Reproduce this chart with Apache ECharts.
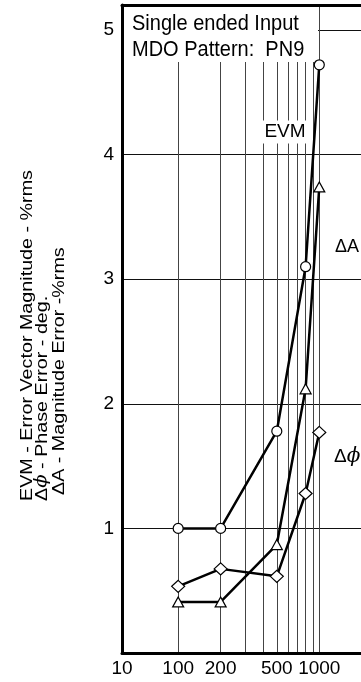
<!DOCTYPE html>
<html><head><meta charset="utf-8">
<script src="https://cdn.jsdelivr.net/npm/echarts@6/dist/echarts.min.js"></script>
<style>html,body{margin:0;padding:0;background:#fff}#c{width:361px;height:682px}</style>
</head><body><div id="c"></div>
<script>
// ---- data ----
const freq = [100, 200, 500, 800, 1000];
const evm = [1.0, 1.0, 1.78, 3.1, 4.72];
const magErr = [0.41, 0.41, 0.87, 2.12, 3.74];
const phaseErr = [0.535, 0.675, 0.615, 1.28, 1.77];
const xGridValues = [100, 200, 300, 400, 500, 600, 700, 800, 900, 1000];
const xTickValues = [40, 100, 200, 500, 1000];
const xTickLabels = ['10', '100', '200', '500', '1000'];
const yTickValues = [1, 2, 3, 4, 5];
const yTickLabels = ['1', '2', '3', '4', '5'];
const boxLines = ['Single ended Input', 'MDO Pattern:  PN9'];
const yTitleLines = ['EVM - Error Vector Magnitude - %rms', 'Δ{p|ϕ} - Phase Error - deg.', 'ΔA - Magnitude Error -%rms'];

const font = "'Liberation Sans', Arial, sans-serif";
const pair = (xs, ys) => xs.map((x, i) => [x, ys[i]]);
function findLabel(v, vals, labels, log) {
  for (let i = 0; i < vals.length; i++) {
    const d = log ? Math.abs(Math.log10(v) - Math.log10(vals[i])) : Math.abs(v - vals[i]);
    if (d < 1e-6) return labels[i];
  }
  return '';
}
const chart = echarts.init(document.getElementById('c'), null, {renderer: 'canvas'});
const lineCommon = {
  type: 'line',
  lineStyle: {color: '#000', width: 2.5},
  itemStyle: {color: '#fff', borderColor: '#000', borderWidth: 1.2},
  showAllSymbol: true,
  z: 3
};
const option = {
  animation: false,
  backgroundColor: '#fff',
  grid: {left: 122, right: 0, top: 5, bottom: 29},
  xAxis: [{
    type: 'log', logBase: 10, min: 40, max: 1975,
    axisLine: {show: true, lineStyle: {color: '#000', width: 3}},
    axisTick: {show: false, customValues: xGridValues},
    axisLabel: {
      customValues: xTickValues,
      formatter: v => findLabel(v, xTickValues, xTickLabels, true),
      fontSize: 19, color: '#000', fontFamily: font, margin: 6
    },
    splitLine: {show: true, lineStyle: {color: '#444', width: 1}}
  }, {
    type: 'log', logBase: 10, min: 40, max: 1975, position: 'top',
    axisLine: {show: true, lineStyle: {color: '#000', width: 3}},
    axisTick: {show: false}, axisLabel: {show: false}, splitLine: {show: false}
  }],
  yAxis: {
    type: 'value', min: 0, max: 5.2,
    axisLine: {show: true, lineStyle: {color: '#000', width: 3}},
    axisTick: {show: false, customValues: yTickValues},
    axisLabel: {
      customValues: yTickValues,
      formatter: v => findLabel(v, yTickValues, yTickLabels, false),
      fontSize: 19, color: '#000', fontFamily: font, margin: 8
    },
    splitLine: {show: true, lineStyle: {color: '#111', width: 1}}
  },
  series: [
    Object.assign({}, lineCommon, {name: 'EVM', data: pair(freq, evm), symbol: 'circle', symbolSize: 10}),
    Object.assign({}, lineCommon, {name: 'ΔA', data: pair(freq, magErr), symbol: 'triangle', symbolSize: [11, 10]}),
    Object.assign({}, lineCommon, {name: 'Δϕ', data: pair(freq, phaseErr), symbol: 'diamond', symbolSize: [13, 12]})
  ],
  graphic: [
    {type: 'rect', z: 1, shape: {x: 124, y: 7, width: 194, height: 55}, style: {fill: '#fff'}},
    {type: 'text', z: 2, x: 132, y: 24, scaleY: 1.08, style: {text: boxLines[0], font: '20px ' + font, fill: '#000', align: 'left', verticalAlign: 'middle'}},
    {type: 'text', z: 2, x: 132, y: 50, scaleY: 1.08, style: {text: boxLines[1], font: '20px ' + font, fill: '#000', align: 'left', verticalAlign: 'middle'}},
    {type: 'text', z: 2, x: 285, y: 132, style: {text: 'EVM', font: '19px ' + font, fill: '#000', align: 'center', verticalAlign: 'middle', backgroundColor: '#fff', padding: [2, 2]}},
    {type: 'text', z: 2, x: 335, y: 247, style: {text: 'ΔA', font: '18px ' + font, fill: '#000', align: 'left', verticalAlign: 'middle'}},
    {type: 'text', z: 2, x: 334, y: 457, style: {text: 'Δ{p|ϕ}', font: '19px ' + font, fill: '#000', align: 'left', verticalAlign: 'middle',
      rich: {p: {fontFamily: "'DejaVu Serif', serif", fontStyle: 'italic', fontSize: 20}}}},
    {type: 'text', z: 2, x: 27, y: 501, rotation: Math.PI / 2, scaleX: 1.16, style: {text: yTitleLines[0], font: '17px ' + font, fill: '#000', align: 'left', verticalAlign: 'middle'}},
    {type: 'text', z: 2, x: 42, y: 501, rotation: Math.PI / 2, scaleX: 1.16, style: {text: yTitleLines[1], font: '17px ' + font, fill: '#000', align: 'left', verticalAlign: 'middle',
      rich: {p: {fontFamily: "'DejaVu Serif', serif", fontStyle: 'italic', fontSize: 17}}}},
    {type: 'text', z: 2, x: 59, y: 495, rotation: Math.PI / 2, scaleX: 1.16, style: {text: yTitleLines[2], font: '17px ' + font, fill: '#000', align: 'left', verticalAlign: 'middle'}}
  ]
};
chart.setOption(option);
</script>
</body></html>
